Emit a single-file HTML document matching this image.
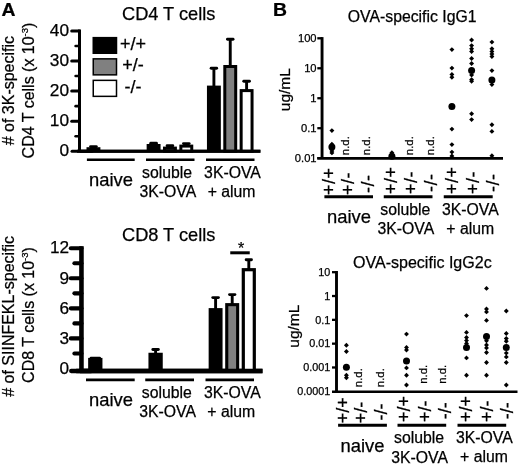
<!DOCTYPE html>
<html lang="en">
<head>
<meta charset="utf-8">
<title>Figure</title>
<style>
html,body{margin:0;padding:0;background:#fff;}
body{width:520px;height:468px;overflow:hidden;}
svg{display:block;}
svg text{font-family:'Liberation Sans', Arial, sans-serif;fill:#000;stroke:#000;stroke-width:0.25px;}
</style>
</head>
<body>
<svg width="520" height="468" viewBox="0 0 520 468">
<rect x="0" y="0" width="520" height="468" fill="#ffffff"/>
<text transform="translate(1.4 16) scale(1.1 1)" font-size="17.6" font-weight="bold">A</text>
<text x="122.0" y="20" font-size="18.2" text-anchor="start" font-weight="normal">CD4 T cells</text>
<line x1="79.5" y1="29.5" x2="79.5" y2="151.25" stroke="#000" stroke-width="3.0" stroke-linecap="butt"/>
<line x1="71.7" y1="31.0" x2="79.5" y2="31.0" stroke="#000" stroke-width="3.0" stroke-linecap="round"/>
<line x1="75.6" y1="46.025" x2="79.5" y2="46.025" stroke="#000" stroke-width="2.55" stroke-linecap="round"/>
<text x="69.0" y="36.2" font-size="17.3" text-anchor="end" font-weight="normal">40</text>
<line x1="71.7" y1="61.05" x2="79.5" y2="61.05" stroke="#000" stroke-width="3.0" stroke-linecap="round"/>
<line x1="75.6" y1="76.075" x2="79.5" y2="76.075" stroke="#000" stroke-width="2.55" stroke-linecap="round"/>
<text x="69.0" y="66.25" font-size="17.3" text-anchor="end" font-weight="normal">30</text>
<line x1="71.7" y1="91.1" x2="79.5" y2="91.1" stroke="#000" stroke-width="3.0" stroke-linecap="round"/>
<line x1="75.6" y1="106.125" x2="79.5" y2="106.125" stroke="#000" stroke-width="2.55" stroke-linecap="round"/>
<text x="69.0" y="96.3" font-size="17.3" text-anchor="end" font-weight="normal">20</text>
<line x1="71.7" y1="121.15" x2="79.5" y2="121.15" stroke="#000" stroke-width="3.0" stroke-linecap="round"/>
<line x1="75.6" y1="136.175" x2="79.5" y2="136.175" stroke="#000" stroke-width="2.55" stroke-linecap="round"/>
<text x="69.0" y="126.35" font-size="17.3" text-anchor="end" font-weight="normal">10</text>
<text x="69.0" y="156.4" font-size="17.3" text-anchor="end" font-weight="normal">0</text>
<line x1="72.0" y1="151.25" x2="92.0" y2="151.25" stroke="#000" stroke-width="3.0" stroke-linecap="round"/>
<line x1="77.0" y1="151.25" x2="260.4" y2="151.25" stroke="#000" stroke-width="3.0" stroke-linecap="butt"/>
<rect x="92.5" y="36.9" width="24.75" height="17.1" fill="#000"/>
<rect x="93.25" y="58.85" width="23.25" height="16.0" fill="#808080" stroke="#000" stroke-width="1.5"/>
<rect x="93.25" y="80.35" width="23.25" height="16.0" fill="#fff" stroke="#000" stroke-width="1.5"/>
<text x="133.1" y="49.8" font-size="18" text-anchor="middle" font-weight="normal">+/+</text>
<text x="133.1" y="71.3" font-size="18" text-anchor="middle" font-weight="normal">+/-</text>
<text x="133.1" y="92.8" font-size="18" text-anchor="middle" font-weight="normal">-/-</text>
<line x1="93.45" y1="146.6" x2="93.45" y2="149" stroke="#000" stroke-width="2.9" stroke-linecap="butt"/>
<line x1="90.60000000000001" y1="146.6" x2="96.3" y2="146.6" stroke="#000" stroke-width="2.9" stroke-linecap="round"/>
<rect x="86.5" y="147.2" width="13.9" height="4.050000000000011" fill="#000"/>
<line x1="153.6" y1="143.2" x2="153.6" y2="146" stroke="#000" stroke-width="2.9" stroke-linecap="butt"/>
<line x1="150.74999999999997" y1="143.2" x2="156.45000000000002" y2="143.2" stroke="#000" stroke-width="2.9" stroke-linecap="round"/>
<rect x="146.65" y="144.0" width="13.9" height="7.25" fill="#000"/>
<line x1="169.95" y1="145.8" x2="169.95" y2="148" stroke="#000" stroke-width="2.9" stroke-linecap="butt"/>
<line x1="167.09999999999997" y1="145.8" x2="172.8" y2="145.8" stroke="#000" stroke-width="2.9" stroke-linecap="round"/>
<rect x="164.5" y="148.1" width="10.9" height="3.1500000000000057" fill="#808080" stroke="#000" stroke-width="3.0"/>
<line x1="186.3" y1="143.6" x2="186.3" y2="146" stroke="#000" stroke-width="2.9" stroke-linecap="butt"/>
<line x1="183.45" y1="143.6" x2="189.15000000000003" y2="143.6" stroke="#000" stroke-width="2.9" stroke-linecap="round"/>
<rect x="180.85000000000002" y="146.1" width="10.9" height="5.150000000000006" fill="#fff" stroke="#000" stroke-width="3.0"/>
<line x1="213.9" y1="68.3" x2="213.9" y2="86" stroke="#000" stroke-width="2.9" stroke-linecap="butt"/>
<line x1="211.15" y1="68.3" x2="216.65" y2="68.3" stroke="#000" stroke-width="2.9" stroke-linecap="round"/>
<rect x="206.95000000000002" y="85.6" width="13.9" height="65.65" fill="#000"/>
<line x1="230.25" y1="39.2" x2="230.25" y2="66" stroke="#000" stroke-width="2.9" stroke-linecap="butt"/>
<line x1="227.45" y1="39.2" x2="233.05" y2="39.2" stroke="#000" stroke-width="2.9" stroke-linecap="round"/>
<rect x="224.8" y="66.5" width="10.9" height="84.75" fill="#808080" stroke="#000" stroke-width="3.0"/>
<line x1="246.60000000000002" y1="81.2" x2="246.60000000000002" y2="90" stroke="#000" stroke-width="2.9" stroke-linecap="butt"/>
<line x1="243.75" y1="81.2" x2="249.45000000000005" y2="81.2" stroke="#000" stroke-width="2.9" stroke-linecap="round"/>
<rect x="241.15000000000003" y="90.6" width="10.9" height="60.650000000000006" fill="#fff" stroke="#000" stroke-width="3.0"/>
<line x1="80" y1="151.25" x2="260.4" y2="151.25" stroke="#000" stroke-width="3.0" stroke-linecap="butt"/>
<line x1="86.9" y1="159.7" x2="134.7" y2="159.7" stroke="#000" stroke-width="2.5" stroke-linecap="butt"/>
<line x1="146.0" y1="159.7" x2="194.5" y2="159.7" stroke="#000" stroke-width="2.5" stroke-linecap="butt"/>
<line x1="206.0" y1="159.7" x2="254.5" y2="159.7" stroke="#000" stroke-width="2.5" stroke-linecap="butt"/>
<text x="89.0" y="185.6" font-size="18.4" text-anchor="start" font-weight="normal">naive</text>
<text x="167.1" y="177.6" font-size="15.8" text-anchor="middle" font-weight="normal">soluble</text>
<text x="167.9" y="196.8" font-size="15.8" text-anchor="middle" font-weight="normal">3K-OVA</text>
<text x="232.5" y="177.6" font-size="15.8" text-anchor="middle" font-weight="normal">3K-OVA</text>
<text x="231.6" y="196.8" font-size="15.8" text-anchor="middle" font-weight="normal">+ alum</text>
<text transform="translate(14.1 145.3) scale(1.02 1) rotate(-90)" font-size="16.0" text-anchor="start"># of 3K-specific</text>
<text transform="translate(33.7 158.4) scale(1.05 1) rotate(-90)" font-size="16.0" text-anchor="start">CD4 T cells (x 10<tspan font-size="9.5" dy="-5.4">-3</tspan><tspan dy="5.4">)</tspan></text>
<text x="122.0" y="241.2" font-size="18.2" text-anchor="start" font-weight="normal">CD8 T cells</text>
<line x1="81.45" y1="246.2" x2="81.45" y2="371.0" stroke="#000" stroke-width="4.6" stroke-linecap="butt"/>
<line x1="70.8" y1="248.25" x2="81.45" y2="248.25" stroke="#000" stroke-width="4.1" stroke-linecap="round"/>
<line x1="74.4" y1="263.275" x2="81.45" y2="263.275" stroke="#000" stroke-width="4.1" stroke-linecap="round"/>
<text x="69.0" y="253.45" font-size="17.2" text-anchor="end" font-weight="normal">12</text>
<line x1="70.8" y1="278.3" x2="81.45" y2="278.3" stroke="#000" stroke-width="4.1" stroke-linecap="round"/>
<line x1="74.4" y1="293.325" x2="81.45" y2="293.325" stroke="#000" stroke-width="4.1" stroke-linecap="round"/>
<text x="69.0" y="283.5" font-size="17.2" text-anchor="end" font-weight="normal">9</text>
<line x1="70.8" y1="308.35" x2="81.45" y2="308.35" stroke="#000" stroke-width="4.1" stroke-linecap="round"/>
<line x1="74.4" y1="323.375" x2="81.45" y2="323.375" stroke="#000" stroke-width="4.1" stroke-linecap="round"/>
<text x="69.0" y="313.55" font-size="17.2" text-anchor="end" font-weight="normal">6</text>
<line x1="70.8" y1="338.4" x2="81.45" y2="338.4" stroke="#000" stroke-width="4.1" stroke-linecap="round"/>
<line x1="74.4" y1="353.42499999999995" x2="81.45" y2="353.42499999999995" stroke="#000" stroke-width="4.1" stroke-linecap="round"/>
<text x="69.0" y="343.6" font-size="17.2" text-anchor="end" font-weight="normal">3</text>
<text x="69.0" y="373.65" font-size="17.2" text-anchor="end" font-weight="normal">0</text>
<line x1="71.2" y1="371.0" x2="91.2" y2="371.0" stroke="#000" stroke-width="4.3" stroke-linecap="round"/>
<line x1="76.2" y1="371.0" x2="262.5" y2="371.0" stroke="#000" stroke-width="4.3" stroke-linecap="butt"/>
<line x1="95.3" y1="358.3" x2="95.3" y2="360" stroke="#000" stroke-width="2.9" stroke-linecap="butt"/>
<line x1="91.0" y1="358.3" x2="99.6" y2="358.3" stroke="#000" stroke-width="2.9" stroke-linecap="round"/>
<rect x="88.14999999999999" y="357.9" width="14.3" height="13.100000000000023" fill="#000"/>
<line x1="155.6" y1="349.5" x2="155.6" y2="354" stroke="#000" stroke-width="2.9" stroke-linecap="butt"/>
<line x1="152.85" y1="349.5" x2="158.35" y2="349.5" stroke="#000" stroke-width="2.9" stroke-linecap="round"/>
<rect x="148.45" y="352.75" width="14.3" height="18.25" fill="#000"/>
<line x1="215.6" y1="297.6" x2="215.6" y2="309" stroke="#000" stroke-width="2.9" stroke-linecap="butt"/>
<line x1="212.79999999999998" y1="297.6" x2="218.4" y2="297.6" stroke="#000" stroke-width="2.9" stroke-linecap="round"/>
<rect x="208.65" y="308.1" width="13.9" height="62.89999999999998" fill="#000"/>
<line x1="232.2" y1="294.6" x2="232.2" y2="304" stroke="#000" stroke-width="2.9" stroke-linecap="butt"/>
<line x1="229.49999999999997" y1="294.6" x2="234.9" y2="294.6" stroke="#000" stroke-width="2.9" stroke-linecap="round"/>
<rect x="226.75" y="304.65000000000003" width="10.9" height="66.34999999999998" fill="#808080" stroke="#000" stroke-width="3.1"/>
<line x1="248.8" y1="259.7" x2="248.8" y2="269" stroke="#000" stroke-width="2.9" stroke-linecap="butt"/>
<line x1="246.15" y1="259.7" x2="251.45000000000002" y2="259.7" stroke="#000" stroke-width="2.9" stroke-linecap="round"/>
<rect x="243.3" y="269.70000000000005" width="11.0" height="101.29999999999998" fill="#fff" stroke="#000" stroke-width="3.2"/>
<line x1="80" y1="371.0" x2="262.5" y2="371.0" stroke="#000" stroke-width="4.3" stroke-linecap="butt"/>
<line x1="230.25" y1="252.8" x2="249.75" y2="252.8" stroke="#000" stroke-width="3.0" stroke-linecap="butt"/>
<text x="241.1" y="253.8" font-size="16" text-anchor="middle" font-weight="normal">*</text>
<line x1="86.0" y1="379.9" x2="134.7" y2="379.9" stroke="#000" stroke-width="2.7" stroke-linecap="butt"/>
<line x1="145.25" y1="379.9" x2="194.0" y2="379.9" stroke="#000" stroke-width="2.7" stroke-linecap="butt"/>
<line x1="205.5" y1="379.9" x2="254.0" y2="379.9" stroke="#000" stroke-width="2.7" stroke-linecap="butt"/>
<text x="89.0" y="405.8" font-size="18.4" text-anchor="start" font-weight="normal">naive</text>
<text x="166.8" y="397.8" font-size="15.8" text-anchor="middle" font-weight="normal">soluble</text>
<text x="167.6" y="417.0" font-size="15.8" text-anchor="middle" font-weight="normal">3K-OVA</text>
<text x="232.3" y="397.8" font-size="15.8" text-anchor="middle" font-weight="normal">3K-OVA</text>
<text x="231.3" y="417.0" font-size="15.8" text-anchor="middle" font-weight="normal">+ alum</text>
<text transform="translate(14.1 396.8) scale(1.02 1) rotate(-90)" font-size="16.0" text-anchor="start"># of SIINFEKL-specific</text>
<text transform="translate(33.7 382.9) scale(1.05 1) rotate(-90)" font-size="16.0" text-anchor="start">CD8 T cells (x 10<tspan font-size="9.5" dy="-5.4">-3</tspan><tspan dy="5.4">)</tspan></text>
<text transform="translate(273.0 16.4) scale(1.1 1)" font-size="17.6" font-weight="bold">B</text>
<text x="347.8" y="22.2" font-size="15.8" text-anchor="start" font-weight="normal">OVA-specific IgG1</text>
<line x1="322.05" y1="37.099999999999994" x2="322.05" y2="158.25" stroke="#000" stroke-width="2.9" stroke-linecap="butt"/>
<line x1="317.3" y1="38.3" x2="322.05" y2="38.3" stroke="#000" stroke-width="2.3" stroke-linecap="butt"/>
<text x="316.6" y="42.2" font-size="11.2" text-anchor="end" font-weight="normal">100</text>
<line x1="317.3" y1="68.27" x2="322.05" y2="68.27" stroke="#000" stroke-width="2.3" stroke-linecap="butt"/>
<text x="316.6" y="72.17" font-size="11.2" text-anchor="end" font-weight="normal">10</text>
<line x1="317.3" y1="98.24" x2="322.05" y2="98.24" stroke="#000" stroke-width="2.3" stroke-linecap="butt"/>
<text x="316.6" y="102.14" font-size="11.2" text-anchor="end" font-weight="normal">1</text>
<line x1="317.3" y1="128.20999999999998" x2="322.05" y2="128.20999999999998" stroke="#000" stroke-width="2.3" stroke-linecap="butt"/>
<text x="316.6" y="132.11" font-size="11.2" text-anchor="end" font-weight="normal">0.1</text>
<text x="316.6" y="162.08" font-size="11.2" text-anchor="end" font-weight="normal">0.01</text>
<line x1="317.3" y1="158.25" x2="503.0" y2="158.25" stroke="#000" stroke-width="2.7" stroke-linecap="butt"/>
<text transform="translate(290.2 111.2) scale(1.0 1) rotate(-90)" font-size="15.5" text-anchor="start">ug/mL</text>
<path d="M331.9 128.15L334.35 130.6L331.9 133.05L329.45 130.6Z" fill="#000"/>
<path d="M331.9 141.85L334.35 144.3L331.9 146.75L329.45 144.3Z" fill="#000"/>
<circle cx="331.9" cy="147.0" r="3.5" fill="#000"/>
<path d="M331.9 148.55L334.35 151.0L331.9 153.45L329.45 151.0Z" fill="#000"/>
<path d="M331.9 150.45L334.35 152.9L331.9 155.35L329.45 152.9Z" fill="#000"/>
<circle cx="391.9" cy="156.2" r="3.5" fill="#000"/>
<path d="M391.9 150.25L394.35 152.7L391.9 155.15L389.45 152.7Z" fill="#000"/>
<path d="M451.9 47.15L454.35 49.6L451.9 52.05L449.45 49.6Z" fill="#000"/>
<path d="M451.9 65.65L454.35 68.1L451.9 70.55L449.45 68.1Z" fill="#000"/>
<path d="M451.9 71.95L454.35 74.4L451.9 76.85L449.45 74.4Z" fill="#000"/>
<path d="M451.9 74.8L454.35 77.25L451.9 79.7L449.45 77.25Z" fill="#000"/>
<path d="M451.9 126.65L454.35 129.1L451.9 131.55L449.45 129.1Z" fill="#000"/>
<path d="M451.9 142.15L454.35 144.6L451.9 147.05L449.45 144.6Z" fill="#000"/>
<path d="M451.9 149.65L454.35 152.1L451.9 154.55L449.45 152.1Z" fill="#000"/>
<path d="M451.9 153.55L454.35 156.0L451.9 158.45L449.45 156.0Z" fill="#000"/>
<circle cx="451.9" cy="106.6" r="3.5" fill="#000"/>
<path d="M471.6 37.55L474.05 40L471.6 42.45L469.15 40Z" fill="#000"/>
<path d="M471.6 43.15L474.05 45.6L471.6 48.05L469.15 45.6Z" fill="#000"/>
<path d="M471.6 46.3L474.05 48.75L471.6 51.2L469.15 48.75Z" fill="#000"/>
<path d="M471.6 49.05L474.05 51.5L471.6 53.95L469.15 51.5Z" fill="#000"/>
<path d="M471.6 56.05L474.05 58.5L471.6 60.95L469.15 58.5Z" fill="#000"/>
<path d="M471.6 61.05L474.05 63.5L471.6 65.95L469.15 63.5Z" fill="#000"/>
<path d="M471.6 72.55L474.05 75L471.6 77.45L469.15 75Z" fill="#000"/>
<path d="M471.6 77.15L474.05 79.6L471.6 82.05L469.15 79.6Z" fill="#000"/>
<path d="M471.6 78.75L474.05 81.2L471.6 83.65L469.15 81.2Z" fill="#000"/>
<path d="M471.6 111.3L474.05 113.75L471.6 116.2L469.15 113.75Z" fill="#000"/>
<path d="M471.6 117.15L474.05 119.6L471.6 122.05L469.15 119.6Z" fill="#000"/>
<circle cx="471.6" cy="70.6" r="3.5" fill="#000"/>
<path d="M491.9 39.65L494.35 42.1L491.9 44.55L489.45 42.1Z" fill="#000"/>
<path d="M491.9 46.3L494.35 48.75L491.9 51.2L489.45 48.75Z" fill="#000"/>
<path d="M491.9 49.05L494.35 51.5L491.9 53.95L489.45 51.5Z" fill="#000"/>
<path d="M491.9 51.55L494.35 54L491.9 56.45L489.45 54Z" fill="#000"/>
<path d="M491.9 54.05L494.35 56.5L491.9 58.95L489.45 56.5Z" fill="#000"/>
<path d="M491.9 68.15L494.35 70.6L491.9 73.05L489.45 70.6Z" fill="#000"/>
<path d="M491.9 82.15L494.35 84.6L491.9 87.05L489.45 84.6Z" fill="#000"/>
<path d="M491.9 122.3L494.35 124.75L491.9 127.2L489.45 124.75Z" fill="#000"/>
<path d="M491.9 128.95L494.35 131.4L491.9 133.85L489.45 131.4Z" fill="#000"/>
<path d="M491.9 153.35L494.35 155.8L491.9 158.25L489.45 155.8Z" fill="#000"/>
<circle cx="491.9" cy="80.0" r="3.5" fill="#000"/>
<line x1="317.3" y1="158.25" x2="503.0" y2="158.25" stroke="#000" stroke-width="2.7" stroke-linecap="butt"/>
<text transform="translate(349.2 155.2) rotate(-90)" font-size="11.4">n.d.</text>
<text transform="translate(370.1 155.2) rotate(-90)" font-size="11.4">n.d.</text>
<text transform="translate(413.0 155.2) rotate(-90)" font-size="11.4">n.d.</text>
<text transform="translate(433.7 155.2) rotate(-90)" font-size="11.4">n.d.</text>
<text transform="translate(335.4 195.1) rotate(-90)" font-size="18" letter-spacing="0.5">+/+</text>
<text transform="translate(353.9 195.1) rotate(-90)" font-size="18" letter-spacing="0.5">+/-</text>
<text transform="translate(373.9 193.0) rotate(-90)" font-size="18" letter-spacing="0.5">-/-</text>
<text transform="translate(396.79999999999995 194.0) rotate(-90)" font-size="18" letter-spacing="0.5">+/+</text>
<text transform="translate(417.25 194.0) rotate(-90)" font-size="18" letter-spacing="0.5">+/-</text>
<text transform="translate(437.0 192.0) rotate(-90)" font-size="18" letter-spacing="0.5">-/-</text>
<text transform="translate(458.4 194.0) rotate(-90)" font-size="18" letter-spacing="0.5">+/+</text>
<text transform="translate(478.9 194.0) rotate(-90)" font-size="18" letter-spacing="0.5">+/-</text>
<text transform="translate(498.9 192.0) rotate(-90)" font-size="18" letter-spacing="0.5">-/-</text>
<line x1="324.4" y1="196.7" x2="373.0" y2="196.7" stroke="#000" stroke-width="2.9" stroke-linecap="butt"/>
<line x1="383.75" y1="196.7" x2="432.5" y2="196.7" stroke="#000" stroke-width="2.9" stroke-linecap="butt"/>
<line x1="443.75" y1="196.7" x2="492.7" y2="196.7" stroke="#000" stroke-width="2.9" stroke-linecap="butt"/>
<text x="327.0" y="222.9" font-size="18.4" text-anchor="start" font-weight="normal">naive</text>
<text x="405.3" y="215.0" font-size="15.8" text-anchor="middle" font-weight="normal">soluble</text>
<text x="405.8" y="234.2" font-size="15.8" text-anchor="middle" font-weight="normal">3K-OVA</text>
<text x="470.4" y="214.8" font-size="15.8" text-anchor="middle" font-weight="normal">3K-OVA</text>
<text x="470.2" y="234.0" font-size="15.8" text-anchor="middle" font-weight="normal">+ alum</text>
<text x="353.0" y="267.5" font-size="16.05" text-anchor="start" font-weight="normal">OVA-specific IgG2c</text>
<line x1="336.5" y1="271.0" x2="336.5" y2="391.75" stroke="#000" stroke-width="2.9" stroke-linecap="butt"/>
<line x1="332.0" y1="272.2" x2="336.5" y2="272.2" stroke="#000" stroke-width="2.3" stroke-linecap="butt"/>
<text x="330.3" y="276.0" font-size="10.8" text-anchor="end" font-weight="normal">10</text>
<line x1="332.0" y1="296.02" x2="336.5" y2="296.02" stroke="#000" stroke-width="2.3" stroke-linecap="butt"/>
<text x="330.3" y="299.82" font-size="10.8" text-anchor="end" font-weight="normal">1</text>
<line x1="332.0" y1="319.84" x2="336.5" y2="319.84" stroke="#000" stroke-width="2.3" stroke-linecap="butt"/>
<text x="330.3" y="323.64" font-size="10.8" text-anchor="end" font-weight="normal">0.1</text>
<line x1="332.0" y1="343.65999999999997" x2="336.5" y2="343.65999999999997" stroke="#000" stroke-width="2.3" stroke-linecap="butt"/>
<text x="330.3" y="347.46" font-size="10.8" text-anchor="end" font-weight="normal">0.01</text>
<line x1="332.0" y1="367.48" x2="336.5" y2="367.48" stroke="#000" stroke-width="2.3" stroke-linecap="butt"/>
<text x="330.3" y="371.28" font-size="10.8" text-anchor="end" font-weight="normal">0.001</text>
<text x="330.3" y="395.1" font-size="10.8" text-anchor="end" font-weight="normal">0.0001</text>
<line x1="332.0" y1="391.75" x2="517.5" y2="391.75" stroke="#000" stroke-width="2.7" stroke-linecap="butt"/>
<text transform="translate(298.6 347.7) scale(1.0 1) rotate(-90)" font-size="15.5" text-anchor="start">ug/mL</text>
<path d="M346.4 342.8L348.85 345.25L346.4 347.7L343.95 345.25Z" fill="#000"/>
<path d="M346.4 349.05L348.85 351.5L346.4 353.95L343.95 351.5Z" fill="#000"/>
<path d="M346.4 372.8L348.85 375.25L346.4 377.7L343.95 375.25Z" fill="#000"/>
<path d="M346.4 375.3L348.85 377.75L346.4 380.2L343.95 377.75Z" fill="#000"/>
<circle cx="346.4" cy="367.25" r="3.5" fill="#000"/>
<path d="M406.5 331.65L408.95 334.1L406.5 336.55L404.05 334.1Z" fill="#000"/>
<path d="M406.5 344.95L408.95 347.4L406.5 349.85L404.05 347.4Z" fill="#000"/>
<path d="M406.5 347.55L408.95 350.0L406.5 352.45L404.05 350.0Z" fill="#000"/>
<path d="M406.5 365.45L408.95 367.9L406.5 370.35L404.05 367.9Z" fill="#000"/>
<path d="M406.5 372.8L408.95 375.25L406.5 377.7L404.05 375.25Z" fill="#000"/>
<path d="M406.5 382.55L408.95 385.0L406.5 387.45L404.05 385.0Z" fill="#000"/>
<circle cx="406.5" cy="361.0" r="3.5" fill="#000"/>
<path d="M466.5 313.15L468.95 315.6L466.5 318.05L464.05 315.6Z" fill="#000"/>
<path d="M466.5 329.95L468.95 332.4L466.5 334.85L464.05 332.4Z" fill="#000"/>
<path d="M466.5 335.05L468.95 337.5L466.5 339.95L464.05 337.5Z" fill="#000"/>
<path d="M466.5 338.15L468.95 340.6L466.5 343.05L464.05 340.6Z" fill="#000"/>
<path d="M466.5 341.05L468.95 343.5L466.5 345.95L464.05 343.5Z" fill="#000"/>
<path d="M466.5 355.45L468.95 357.9L466.5 360.35L464.05 357.9Z" fill="#000"/>
<path d="M466.5 372.8L468.95 375.25L466.5 377.7L464.05 375.25Z" fill="#000"/>
<circle cx="466.5" cy="347.5" r="3.5" fill="#000"/>
<path d="M486.5 285.95L488.95 288.4L486.5 290.85L484.05 288.4Z" fill="#000"/>
<path d="M486.5 306.55L488.95 309L486.5 311.45L484.05 309Z" fill="#000"/>
<path d="M486.5 309.45L488.95 311.9L486.5 314.35L484.05 311.9Z" fill="#000"/>
<path d="M486.5 317.95L488.95 320.4L486.5 322.85L484.05 320.4Z" fill="#000"/>
<path d="M486.5 338.35L488.95 340.8L486.5 343.25L484.05 340.8Z" fill="#000"/>
<path d="M486.5 342.55L488.95 345L486.5 347.45L484.05 345Z" fill="#000"/>
<path d="M486.5 345.45L488.95 347.9L486.5 350.35L484.05 347.9Z" fill="#000"/>
<path d="M486.5 350.05L488.95 352.5L486.5 354.95L484.05 352.5Z" fill="#000"/>
<path d="M486.5 360.05L488.95 362.5L486.5 364.95L484.05 362.5Z" fill="#000"/>
<path d="M486.5 372.8L488.95 375.25L486.5 377.7L484.05 375.25Z" fill="#000"/>
<circle cx="486.5" cy="336.5" r="3.5" fill="#000"/>
<path d="M506.3 308.55L508.75 311L506.3 313.45L503.85 311Z" fill="#000"/>
<path d="M506.3 331.05L508.75 333.5L506.3 335.95L503.85 333.5Z" fill="#000"/>
<path d="M506.3 336.05L508.75 338.5L506.3 340.95L503.85 338.5Z" fill="#000"/>
<path d="M506.3 338.8L508.75 341.25L506.3 343.7L503.85 341.25Z" fill="#000"/>
<path d="M506.3 350.65L508.75 353.1L506.3 355.55L503.85 353.1Z" fill="#000"/>
<path d="M506.3 354.45L508.75 356.9L506.3 359.35L503.85 356.9Z" fill="#000"/>
<path d="M506.3 360.05L508.75 362.5L506.3 364.95L503.85 362.5Z" fill="#000"/>
<path d="M506.3 382.55L508.75 385.0L506.3 387.45L503.85 385.0Z" fill="#000"/>
<circle cx="506.3" cy="347.5" r="3.5" fill="#000"/>
<text transform="translate(361.9 387.2) rotate(-90)" font-size="11.4">n.d.</text>
<text transform="translate(383.6 387.2) rotate(-90)" font-size="11.4">n.d.</text>
<text transform="translate(426.9 383.8) rotate(-90)" font-size="11.4">n.d.</text>
<text transform="translate(445.8 383.8) rotate(-90)" font-size="11.4">n.d.</text>
<text transform="translate(349.09999999999997 423.2) rotate(-90)" font-size="18" letter-spacing="0">+/+</text>
<text transform="translate(367.4 423.2) rotate(-90)" font-size="18" letter-spacing="0">+/-</text>
<text transform="translate(386.9 420.4) rotate(-90)" font-size="18" letter-spacing="0">-/-</text>
<text transform="translate(410.0 422.0) rotate(-90)" font-size="18" letter-spacing="0">+/+</text>
<text transform="translate(431.0 422.0) rotate(-90)" font-size="18" letter-spacing="0">+/-</text>
<text transform="translate(450.7 419.3) rotate(-90)" font-size="18" letter-spacing="0">-/-</text>
<text transform="translate(471.7 422.0) rotate(-90)" font-size="18" letter-spacing="0">+/+</text>
<text transform="translate(492.9 422.0) rotate(-90)" font-size="18" letter-spacing="0">+/-</text>
<text transform="translate(512.6 419.3) rotate(-90)" font-size="18" letter-spacing="0">-/-</text>
<line x1="338.1" y1="425.2" x2="386.9" y2="425.2" stroke="#000" stroke-width="2.9" stroke-linecap="butt"/>
<line x1="397.5" y1="425.2" x2="446.2" y2="425.2" stroke="#000" stroke-width="2.9" stroke-linecap="butt"/>
<line x1="457.5" y1="425.2" x2="506.2" y2="425.2" stroke="#000" stroke-width="2.9" stroke-linecap="butt"/>
<text x="340.5" y="451.5" font-size="18.4" text-anchor="start" font-weight="normal">naive</text>
<text x="419.1" y="443.2" font-size="15.8" text-anchor="middle" font-weight="normal">soluble</text>
<text x="419.6" y="462.5" font-size="15.8" text-anchor="middle" font-weight="normal">3K-OVA</text>
<text x="484.3" y="443.0" font-size="15.8" text-anchor="middle" font-weight="normal">3K-OVA</text>
<text x="484.0" y="462.3" font-size="15.8" text-anchor="middle" font-weight="normal">+ alum</text>
</svg>
</body>
</html>
